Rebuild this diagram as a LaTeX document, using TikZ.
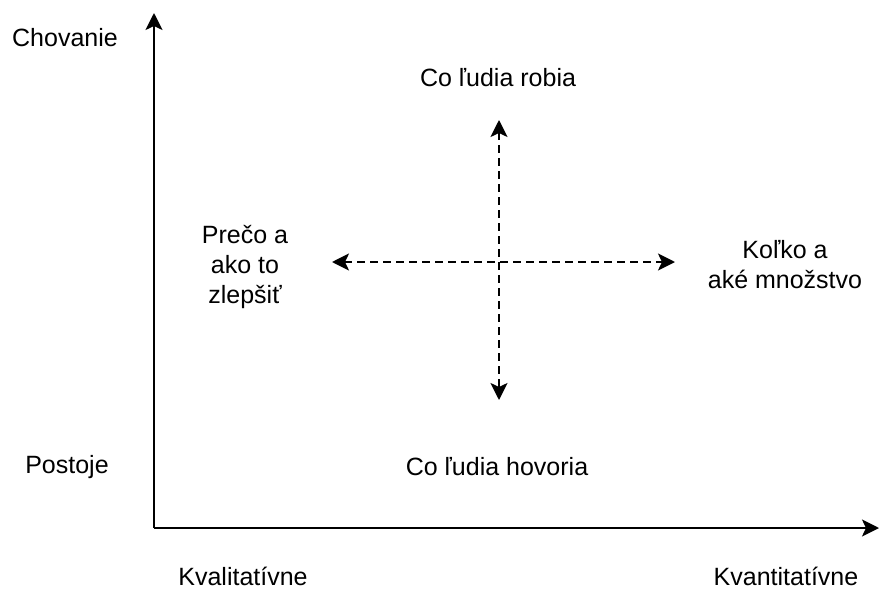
\documentclass[tikz,border=0pt]{standalone}
\usepackage{fontspec}
\setmainfont{Liberation Sans}
\usepackage{tikz}
\usetikzlibrary{arrows.meta,positioning}
\tikzstyle{axis} = [line width=2pt, -{Stealth[length=17pt, width=17pt, inset=4pt]}]
\tikzstyle{dimension} = [line width=2pt, dash pattern=on 8pt off 5pt, {Stealth[length=17pt, width=17pt, inset=4pt]}-{Stealth[length=17pt, width=17pt, inset=4pt]}]
\tikzstyle{label} = [align=center, inner sep=0pt, font=\fontsize{25}{30}\selectfont]
\begin{document}
\begin{tikzpicture}[x=1pt, y=-1pt]
	\useasboundingbox (0,0) rectangle (879,589);
	% axes
	\coordinate (origin) at (154,528);
	\coordinate (ytip) at (154,13);
	\coordinate (xtip) at (879,528);
	\draw[axis] (origin) -- (ytip);
	\draw[axis] (origin) -- (xtip);
	% axis texts
	\node[label] (chovanie) at (65,38) {Chovanie};
	\node[label] (postoje) at (67,467) {Postoje};
	\node[label] (kvalit) at (243,576) {Kvalitatívne};
	\node[label] (kvantit) at (786,576) {Kvantitatívne};
	% quadrant texts
	\node[label] (robia) at (498,78) {Co ľudia robia};
	\node[label] (hovoria) at (497,467) {Co ľudia hovoria};
	\node[label] (preco) at (245,267) {Prečo a\\ako to\\zlepšiť};
	\node[label] (kolko) at (785,265) {Koľko a\\aké množstvo};
	% cross
	\coordinate (left) at (332,262);
	\coordinate (right) at (675,262);
	\coordinate (top) at (499,120);
	\coordinate (bottom) at (499,400);
	\draw[dimension] (left) -- (right);
	\draw[dimension] (top) -- (bottom);
\end{tikzpicture}
\end{document}
